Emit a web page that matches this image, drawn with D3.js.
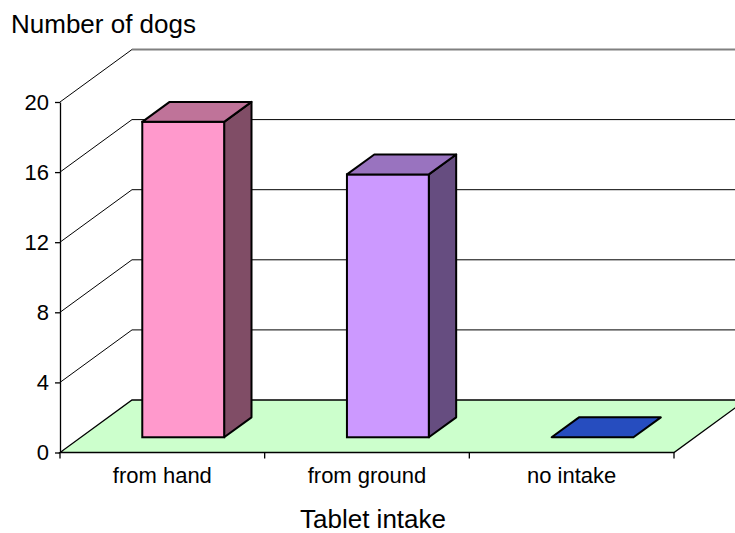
<!DOCTYPE html>
<html>
<head>
<meta charset="utf-8">
<script src="https://cdn.jsdelivr.net/npm/d3@7"></script>
<style>
  body { margin: 0; background: #fff; }
  text { font-family: "Liberation Sans", Arial, sans-serif; fill: #000; }
</style>
</head>
<body>
<script>
// data
let categorias = ["from hand", "from ground", "no intake"];
let perros = [18, 15, 0];
let colores = ["#FF99CC", "#CC99FF", "#3366FF"];
let yTicks = [0, 4, 8, 12, 16, 20];

let w = 735;
let h = 533;

// profundidad del grafico 3d (desplazamiento de la pared del fondo)
let dx = 72;
let dy = -52.5;
let z0 = 0.29; // frente de la barra
let z1 = 0.67; // fondo de la barra

let svg = d3.select("body").append("svg").attr("width", w).attr("height", h);

let x = d3.scaleBand().domain(categorias).range([60, 674]);
let y = d3.scaleLinear().domain([0, 20]).range([452.5, 102]);

let x0 = x.range()[0];
let x1 = x.range()[1];

function sombra(c, k) {
  let r = d3.rgb(c);
  return d3.rgb(r.r * k, r.g * k, r.b * k).toString();
}

// lineas de la pared izquierda (diagonales)
svg
  .selectAll("line.diag")
  .data(yTicks.filter((d) => d > 0))
  .enter()
  .append("line")
  .attr("x1", x0)
  .attr("y1", (d) => y(d))
  .attr("x2", x0 + dx)
  .attr("y2", (d) => y(d) + dy)
  .attr("stroke", "#000")
  .attr("stroke-width", 1);

// lineas de la pared del fondo
svg
  .selectAll("line.grid")
  .data(yTicks.filter((d) => d > 0))
  .enter()
  .append("line")
  .attr("x1", x0 + dx)
  .attr("y1", (d) => y(d) + dy)
  .attr("x2", x1 + dx)
  .attr("y2", (d) => y(d) + dy)
  .attr("stroke", (d) => (d == 20 ? "#808080" : "#000"))
  .attr("stroke-width", (d) => (d == 20 ? 2 : 1));

// piso
let piso = [
  [x0, y(0)],
  [x1, y(0)],
  [x1 + dx, y(0) + dy],
  [x0 + dx, y(0) + dy],
];
svg
  .append("polygon")
  .attr("points", piso.map((p) => p.join(",")).join(" "))
  .attr("fill", "#CCFFCC")
  .attr("stroke", "#000")
  .attr("stroke-width", 1.3);

// barras
let barW = x.bandwidth() / 2.5;
let barras = svg
  .selectAll("g.barra")
  .data(perros)
  .enter()
  .append("g");

barras.each(function (d, i) {
  let g = d3.select(this);
  let xl = x(categorias[i]) + (x.bandwidth() - barW) / 2 + dx * z0;
  let xr = xl + barW;
  let yb = y(0) + dy * z0;
  let yt = y(d) + dy * z0;
  let ox = dx * (z1 - z0);
  let oy = dy * (z1 - z0);
  let c = colores[i];

  if (d > 0) {
    // lado derecho
    g.append("polygon")
      .attr("points", [[xr, yt], [xr + ox, yt + oy], [xr + ox, yb + oy], [xr, yb]].map((p) => p.join(",")).join(" "))
      .attr("fill", sombra(c, 0.5))
      .attr("stroke", "#000")
      .attr("stroke-width", 2)
      .attr("stroke-linejoin", "round");
    // frente
    g.append("rect")
      .attr("x", xl)
      .attr("y", yt)
      .attr("width", barW)
      .attr("height", yb - yt)
      .attr("fill", c)
      .attr("stroke", "#000")
      .attr("stroke-width", 2);
  }
  // tapa
  g.append("polygon")
    .attr("points", [[xl, yt], [xr, yt], [xr + ox, yt + oy], [xl + ox, yt + oy]].map((p) => p.join(",")).join(" "))
    .attr("fill", sombra(c, 0.75))
    .attr("stroke", "#000")
    .attr("stroke-width", 2)
    .attr("stroke-linejoin", "round");
});

// eje y
let ejeY = svg
  .append("g")
  .attr("transform", "translate(" + x0 + ",0)")
  .call(d3.axisLeft(y).tickValues(yTicks).tickSize(5).tickSizeOuter(0).tickPadding(6));
ejeY.select(".domain").attr("stroke", "#000").attr("stroke-width", 1.3);
ejeY.selectAll(".tick line").attr("stroke", "#000").attr("stroke-width", 1.3);
ejeY
  .selectAll(".tick text")
  .attr("font-size", 22)
  .attr("font-family", '"Liberation Sans", Arial, sans-serif')
  .attr("fill", "#000");

// marcas del eje x (en los bordes de cada categoria)
let bordes = categorias.map((c) => x(c)).concat([x1]);
svg
  .selectAll("line.xtick")
  .data(bordes)
  .enter()
  .append("line")
  .attr("x1", (d) => d)
  .attr("x2", (d) => d)
  .attr("y1", y(0))
  .attr("y2", y(0) + 6)
  .attr("stroke", "#000")
  .attr("stroke-width", 1.3);

// etiquetas de categorias
svg
  .selectAll("text.cat")
  .data(categorias)
  .enter()
  .append("text")
  .attr("x", (d) => x(d) + x.bandwidth() / 2)
  .attr("y", 483)
  .attr("text-anchor", "middle")
  .attr("font-size", 22)
  .text((d) => d);

// titulos
svg.append("text").attr("x", 11).attr("y", 33).attr("font-size", 26).text("Number of dogs");
svg
  .append("text")
  .attr("x", 373)
  .attr("y", 528)
  .attr("text-anchor", "middle")
  .attr("font-size", 26)
  .text("Tablet intake");
</script>
</body>
</html>
